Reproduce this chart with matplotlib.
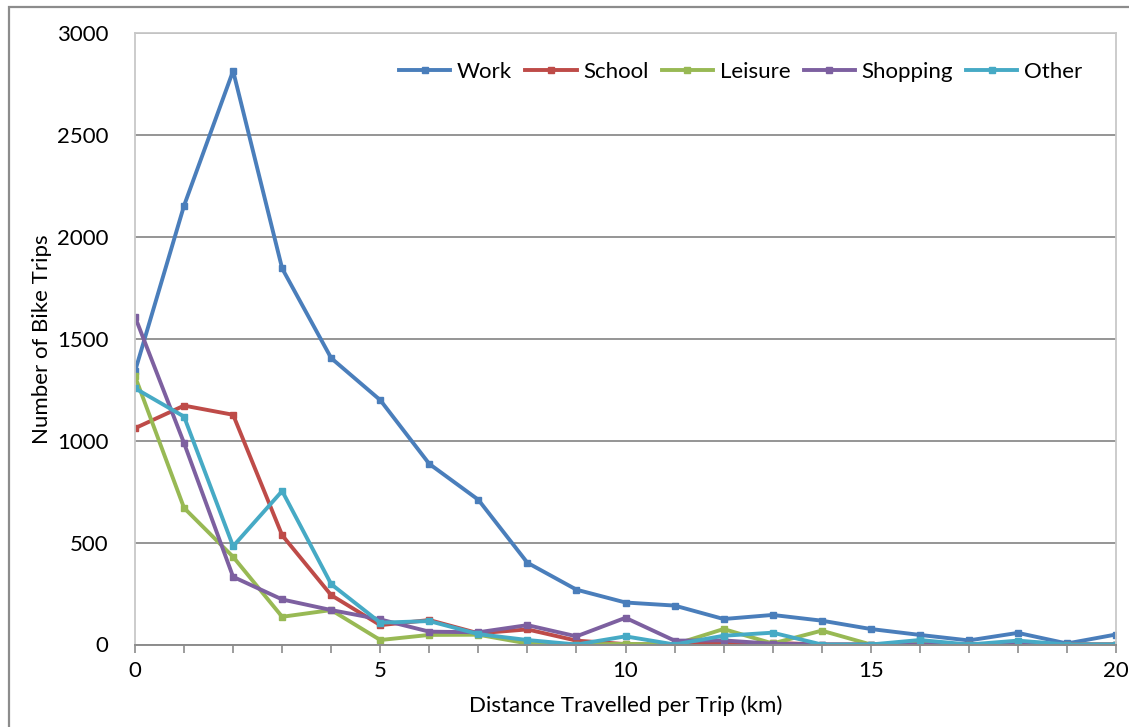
"""Bike trips by distance travelled, split by trip purpose."""

import matplotlib
matplotlib.use("Agg")
import matplotlib.pyplot as plt
from matplotlib.patches import Rectangle

plt.rcParams["font.family"] = ["Lato", "DejaVu Sans"]

distance_km = list(range(21))

work = [1340, 2153, 2814, 1845, 1405, 1199, 886, 710, 401, 269, 206,
        191, 125, 145, 117, 76, 47, 20, 57, 5, 49]
school = [1061, 1172, 1127, 536, 242, 95, 120, 55, 74, 19, 2,
          0, 5, 8, 0, 0, 0, 0, 0, 0, 0]
leisure = [1316, 670, 430, 136, 169, 22, 47, 48, 5, 0, 3,
           0, 76, 5, 68, 0, 4, 0, 0, 0, 0]
shopping = [1608, 988, 332, 221, 169, 123, 63, 60, 95, 40, 131,
            19, 20, 4, 0, 0, 0, 0, 0, 0, 0]
other = [1257, 1118, 482, 753, 296, 107, 115, 51, 22, 0, 40,
         0, 43, 58, 0, 0, 22, 0, 19, 0, 0]

series = [
    ("Work", work, "#4A7EBB"),
    ("School", school, "#BE4B48"),
    ("Leisure", leisure, "#98B954"),
    ("Shopping", shopping, "#7D60A0"),
    ("Other", other, "#46AAC5"),
]

FS = 16

fig = plt.figure(figsize=(11.29, 7.27), dpi=100)

# chart frame
fig.patches.append(Rectangle((9 / 1129, -0.1), 1.2, 1.1 - 7 / 727,
                             transform=fig.transFigure, fill=False,
                             edgecolor="#8C8C8C", linewidth=1.6))

ax = fig.add_axes([135 / 1129, 1 - 644.5 / 727, 981 / 1129, 611.5 / 727])

for name, vals, col in series:
    ax.plot(distance_km, vals, color=col, linewidth=2.8, marker="s",
            markersize=4.5, label=name)

ax.set_xlim(0, 20)
ax.set_ylim(0, 3000)
ax.set_xticks(range(0, 21, 5))
ax.set_xticks(range(21), minor=True)
ax.set_yticks(range(0, 3001, 500))

ax.yaxis.grid(True, color="#8C8C8C", linewidth=1.3)
ax.set_axisbelow(True)

for side in ("top", "right", "left"):
    ax.spines[side].set_color("#C8C8C8")
    ax.spines[side].set_linewidth(1.3)
ax.spines["bottom"].set_color("#8C8C8C")
ax.spines["bottom"].set_linewidth(1.4)

ax.tick_params(axis="x", which="both", direction="out", length=6,
               color="#8C8C8C", width=1.2, labelsize=FS, pad=6)
ax.tick_params(axis="y", length=0, labelsize=FS, pad=19)

ax.set_xlabel("Distance Travelled per Trip (km)", fontsize=FS, labelpad=10)
ax.set_ylabel("Number of Bike Trips", fontsize=FS, labelpad=4)

ax.legend(loc="upper right", ncol=5, frameon=False, fontsize=FS,
          bbox_to_anchor=(0.986, 0.985), handlelength=2.3,
          handletextpad=0.3, columnspacing=0.6, markerscale=0.9)

fig.savefig("out.png", dpi=100)
